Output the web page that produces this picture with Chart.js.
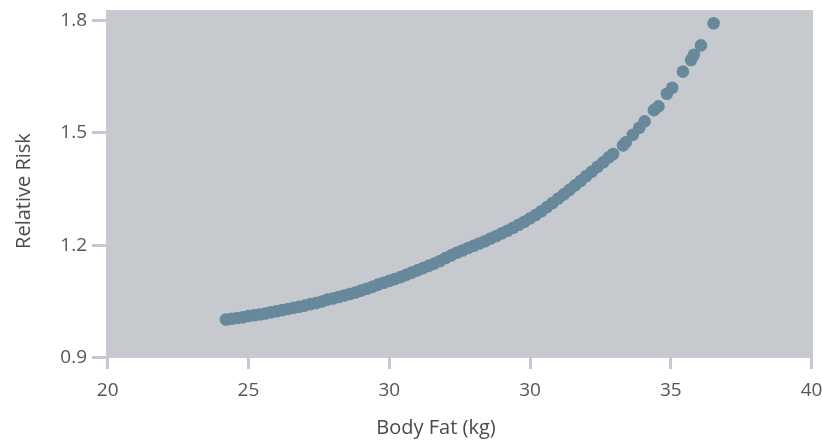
<!DOCTYPE html>
<html>
<head>
<meta charset="utf-8">
<script src="https://cdn.jsdelivr.net/npm/chart.js@4"></script>
<style>
 html,body{margin:0;padding:0;background:#fff;}
 #wrap{width:822px;height:440px;}
</style>
</head>
<body>
<div id="wrap"><canvas id="chart" width="822" height="440"></canvas></div>
<script>
// values
const bodyFat=[24.2,24.4,24.6,24.8,25.0,25.2,25.4,25.6,25.8,26.0,26.2,26.4,26.6,26.8,27.0,27.2,27.4,27.6,27.8,28.0,
 28.2,28.4,28.6,28.8,29.0,29.2,29.4,29.6,29.8,30.0,30.2,30.4,30.6,30.8,31.0,31.2,31.4,31.6,31.8,32.0,
 32.2,32.4,32.6,32.8,33.0,33.2,33.4,33.6,33.8,34.0,34.2,34.4,34.6,34.8,35.0,35.2,35.4,35.6,35.8,36.0,
 36.2,36.4,36.6,36.8,37.0,37.2,37.4,37.6,37.8,37.95,
 38.30,38.40,38.65,38.88,39.07,39.40,39.56,39.86,40.05,40.43,40.72,40.82,41.07,41.52];
const relativeRisk=[1.002,1.004,1.006,1.008,1.011,1.013,1.015,1.018,1.021,1.024,1.027,1.030,1.033,1.036,1.039,1.043,1.046,1.050,1.055,1.058,
 1.062,1.066,1.070,1.074,1.079,1.084,1.089,1.095,1.100,1.105,1.110,1.115,1.121,1.127,1.133,1.139,1.145,1.151,1.158,1.166,
 1.173,1.180,1.186,1.193,1.199,1.205,1.211,1.218,1.225,1.232,1.239,1.247,1.255,1.263,1.272,1.281,1.291,1.302,1.313,1.325,
 1.336,1.348,1.360,1.372,1.385,1.397,1.410,1.422,1.435,1.444,
 1.467,1.475,1.495,1.514,1.531,1.561,1.571,1.605,1.621,1.664,1.695,1.709,1.734,1.793];

const xTickValues=[20,25,30,35,40,45];
const xTickLabels=["20","25","30","30","35","40"];
const yTickValues=[0.9,1.2,1.5,1.8];
const yTickLabels=["0.9","1.2","1.5","1.8"];

const xTitle="Body Fat (kg)";
const yTitle="Relative Risk";

const FONT="'Open Sans', 'DejaVu Sans', sans-serif";

const plotBg={
 id:"plotBg",
 beforeDraw(c){
  const a=c.chartArea, ctx=c.ctx;
  ctx.save();
  ctx.fillStyle="#c6c9cd";
  ctx.fillRect(a.left,a.top,a.right-a.left,a.bottom-a.top);
  ctx.restore();
 }
};

const axisTitles={
 id:"axisTitles",
 afterDraw(c){
  const ctx=c.ctx;
  ctx.save();
  ctx.fillStyle="#4a4a4a";
  ctx.font="20px "+FONT;
  ctx.textAlign="center";
  ctx.textBaseline="middle";
  ctx.fillText(xTitle,436,428);
  ctx.translate(24,191);
  ctx.rotate(-Math.PI/2);
  ctx.fillText(yTitle,0,0);
  ctx.restore();
 }
};

new Chart(document.getElementById("chart"),{
 type:"scatter",
 data:{
  datasets:[{
   data:bodyFat.map((x,i)=>({x,y:relativeRisk[i]})),
   backgroundColor:"#67899b",
   borderColor:"#67899b",
   pointBackgroundColor:"#67899b",
   pointBorderWidth:0,
   pointRadius:6.3,
   pointHoverRadius:6.3
  }]
 },
 options:{
  responsive:false,
  animation:false,
  events:[],
  layout:{padding:{top:10,right:9,left:0,bottom:0}},
  plugins:{legend:{display:false},tooltip:{enabled:false}},
  scales:{
   x:{
    type:"linear",
    min:19.94,
    max:45.05,
    afterBuildTicks:s=>{ s.ticks=xTickValues.map(v=>({value:v})); },
    afterFit:s=>{ s.height=82; s.paddingRight=0; s.paddingLeft=0; },
    border:{display:false},
    grid:{drawOnChartArea:false,drawTicks:true,tickLength:11,tickWidth:3,tickColor:"#c6c9cd"},
    ticks:{
     callback:(v,i)=>xTickLabels[i],
     color:"#555",
     padding:10,
     maxRotation:0,
     font:{family:FONT,size:19}
    }
   },
   y:{
    min:0.899,
    max:1.8285,
    afterBuildTicks:s=>{ s.ticks=yTickValues.map(v=>({value:v})); },
    afterFit:s=>{ s.width=106; s.paddingTop=0; s.paddingBottom=0; },
    border:{display:false},
    grid:{drawOnChartArea:false,drawTicks:true,tickLength:14,tickWidth:3,tickColor:"#c6c9cd"},
    ticks:{
     callback:(v,i)=>yTickLabels[i],
     color:"#555",
     padding:5,
     font:{family:FONT,size:19}
    }
   }
  }
 },
 plugins:[plotBg,axisTitles]
});
</script>
</body>
</html>
